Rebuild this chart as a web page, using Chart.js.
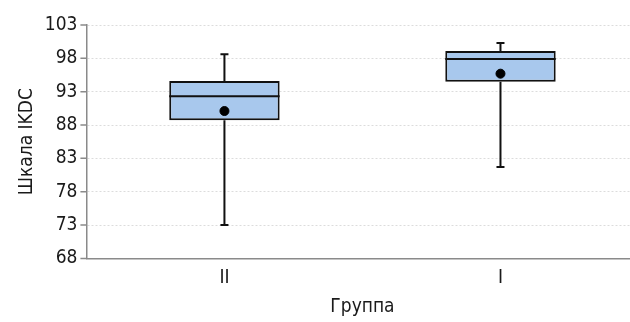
<!DOCTYPE html>
<html>
<head>
<meta charset="utf-8">
<script src="https://cdn.jsdelivr.net/npm/chart.js@4/dist/chart.umd.min.js"></script>
<style>
  html, body { margin: 0; padding: 0; background: #fff; overflow: hidden; }
  #wrap { width: 630px; height: 322px; overflow: hidden; }
</style>
</head>
<body>
<div id="wrap"><canvas id="chart" width="644" height="322"></canvas></div>
<script>
// box plot values per group
const groups = ["II", "I"]
const whiskerLow = [73.0, 81.7]
const q1 = [88.7, 94.5]
const median = [92.3, 97.9]
const q3 = [94.6, 99.1]
const whiskerHigh = [98.6, 100.3]
const means = [90.1, 95.7]
const yTicks = [68, 73, 78, 83, 88, 93, 98, 103]

const FONT = "'DejaVu Sans Condensed', 'Liberation Sans Narrow', sans-serif"

// whiskers + median line drawn over the bar boxes
const boxExtras = {
    id: "boxExtras",
    afterDatasetDraw(chart, args) {
        if (args.index !== 0) return
        const ctx = chart.ctx
        const y = chart.scales.y
        const meta = chart.getDatasetMeta(0)
        ctx.save()
        ctx.strokeStyle = "#111"
        ctx.lineWidth = 2
        meta.data.forEach((bar, i) => {
            const cx = bar.x
            const half = bar.width / 2
            const pLow = y.getPixelForValue(whiskerLow[i])
            const pHigh = y.getPixelForValue(whiskerHigh[i])
            const pQ1 = y.getPixelForValue(q1[i])
            const pQ3 = y.getPixelForValue(q3[i])
            const pMed = y.getPixelForValue(median[i])
            ctx.beginPath()
            ctx.moveTo(cx, pQ3); ctx.lineTo(cx, pHigh)
            ctx.moveTo(cx, pQ1); ctx.lineTo(cx, pLow)
            ctx.moveTo(cx - 4, pHigh); ctx.lineTo(cx + 4, pHigh)
            ctx.moveTo(cx - 4, pLow); ctx.lineTo(cx + 4, pLow)
            ctx.moveTo(cx - half, pMed); ctx.lineTo(cx + half, pMed)
            ctx.stroke()
        })
        ctx.restore()
    },
    afterDraw(chart) {
        // short outward tick marks on the y axis
        const ctx = chart.ctx
        const y = chart.scales.y
        const left = chart.chartArea.left
        ctx.save()
        ctx.strokeStyle = "#8a8a8a"
        ctx.lineWidth = 1.5
        ctx.beginPath()
        yTicks.forEach(v => {
            const p = y.getPixelForValue(v)
            ctx.moveTo(left - 6, p); ctx.lineTo(left, p)
        })
        ctx.stroke()
        ctx.restore()
    }
}

window.addEventListener("load", () => {
    const ctx = document.getElementById("chart")
    new Chart(ctx, {
        type: "bar",
        data: {
            labels: groups,
            datasets: [{
                data: groups.map((g, i) => [q1[i], q3[i]]),
                backgroundColor: "#a8c8ed",
                borderColor: "#111",
                borderWidth: 2,
                borderSkipped: false,
                barPercentage: 0.4,
                categoryPercentage: 1,
                order: 2
            }, {
                type: "line",
                data: means,
                showLine: false,
                pointRadius: 4.5,
                pointBackgroundColor: "#000",
                pointBorderColor: "#000",
                order: 1
            }]
        },
        options: {
            responsive: false,
            animation: false,
            layout: { padding: { top: 25, right: 0, left: 12, bottom: 4 } },
            plugins: {
                legend: { display: false },
                tooltip: { enabled: false }
            },
            scales: {
                x: {
                    grid: { display: false },
                    border: { color: "#8a8a8a", width: 1.5 },
                    ticks: { color: "#1a1a1a", font: { family: FONT, size: 19 }, padding: 0 },
                    title: { display: true, text: "Группа", color: "#1a1a1a", font: { family: FONT, size: 19 }, padding: { top: 6, bottom: 0 } }
                },
                y: {
                    min: 68,
                    max: 103,
                    afterBuildTicks: (axis) => { axis.ticks = yTicks.map(v => ({ value: v })) },
                    grid: { color: "#dcdcdc", tickLength: 6, lineWidth: 1, drawTicks: true, tickColor: "rgba(0,0,0,0)" },
                    border: { color: "#8a8a8a", width: 1.5, dash: [2, 2] },
                    ticks: { color: "#1a1a1a", font: { family: FONT, size: 19 }, padding: 3 },
                    title: { display: true, text: "Шкала IKDC", color: "#1a1a1a", font: { family: FONT, size: 19 }, padding: { bottom: 3 } }
                }
            }
        },
        plugins: [boxExtras]
    })
})
</script>
</body>
</html>
